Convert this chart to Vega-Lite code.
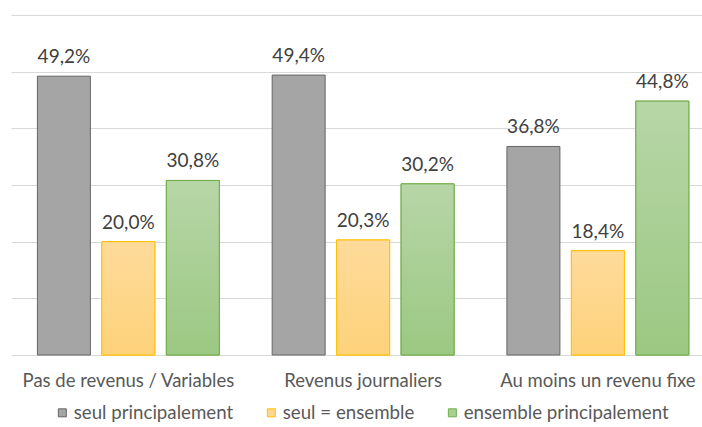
{
  "$schema": "https://vega.github.io/schema/vega-lite/v6.json",
  "width": 691,
  "height": 340,
  "autosize": {"type": "none"},
  "padding": {"left": 11, "top": 15, "right": 0, "bottom": 72},
  "data": {
    "values": [
      {"group": "Pas de revenus / Variables", "series": "seul principalement", "value": 0.492},
      {"group": "Pas de revenus / Variables", "series": "seul = ensemble", "value": 0.200},
      {"group": "Pas de revenus / Variables", "series": "ensemble principalement", "value": 0.308},
      {"group": "Revenus journaliers", "series": "seul principalement", "value": 0.494},
      {"group": "Revenus journaliers", "series": "seul = ensemble", "value": 0.203},
      {"group": "Revenus journaliers", "series": "ensemble principalement", "value": 0.302},
      {"group": "Au moins un revenu fixe", "series": "seul principalement", "value": 0.368},
      {"group": "Au moins un revenu fixe", "series": "seul = ensemble", "value": 0.184},
      {"group": "Au moins un revenu fixe", "series": "ensemble principalement", "value": 0.448}
    ]
  },
  "encoding": {
    "x": {
      "field": "group",
      "type": "nominal",
      "sort": ["Pas de revenus / Variables", "Revenus journaliers", "Au moins un revenu fixe"],
      "title": null,
      "scale": {"range": [0, 704.25], "paddingInner": 0.225, "paddingOuter": 0.1125},
      "axis": {"domain": false, "ticks": false, "labelAngle": 0, "labelFont": "Lato", "labelFontSize": 18.5, "labelColor": "#595959", "labelPadding": 16, "labelLimit": 0, "grid": false}
    },
    "xOffset": {
      "field": "series",
      "type": "nominal",
      "scale": {"domain": ["seul principalement", "seul = ensemble", "ensemble principalement"], "paddingInner": 0.178, "paddingOuter": 0}
    },
    "y": {
      "field": "value",
      "type": "quantitative",
      "title": null,
      "scale": {"domain": [0, 0.6], "nice": false},
      "axis": {"values": [0, 0.1, 0.2, 0.3, 0.4, 0.5, 0.6], "labels": false, "ticks": false, "domain": false, "grid": true, "gridColor": "#D9D9D9", "gridWidth": 1}
    }
  },
  "layer": [
    {
      "mark": {"type": "bar", "strokeWidth": 1},
      "encoding": {
        "fill": {
          "field": "series",
          "type": "nominal",
          "scale": {"domain": ["seul principalement", "seul = ensemble", "ensemble principalement"], "range": ["#A5A5A5", "#FED88E", "#A9CF94"]},
          "legend": {"orient": "none", "legendX": 42, "legendY": 388, "direction": "horizontal", "title": null, "symbolType": "square", "symbolSize": 64, "symbolStrokeWidth": 1, "labelFont": "Lato", "labelFontSize": 18.7, "labelColor": "#595959", "columnPadding": 28, "labelOffset": 2, "labelLimit": 0}
        },
        "stroke": {
          "field": "series",
          "type": "nominal",
          "scale": {"domain": ["seul principalement", "seul = ensemble", "ensemble principalement"], "range": ["#666666", "#FFC000", "#70AD47"]},
          "legend": {"orient": "none", "legendX": 42, "legendY": 388, "direction": "horizontal", "title": null, "symbolType": "square", "symbolSize": 64, "symbolStrokeWidth": 1, "labelFont": "Lato", "labelFontSize": 18.7, "labelColor": "#595959", "columnPadding": 28, "labelOffset": 2, "labelLimit": 0}
        }
      }
    },
    {
      "transform": [{"filter": "datum.series === 'seul = ensemble'"}],
      "mark": {
        "type": "bar",
        "strokeWidth": 1,
        "stroke": "#FFC000",
        "fill": {"gradient": "linear", "x1": 0, "y1": 0, "x2": 0, "y2": 1, "stops": [{"offset": 0, "color": "#FEDB9B"}, {"offset": 1, "color": "#FED27A"}]}
      }
    },
    {
      "transform": [{"filter": "datum.series === 'ensemble principalement'"}],
      "mark": {
        "type": "bar",
        "strokeWidth": 1,
        "stroke": "#70AD47",
        "fill": {"gradient": "linear", "x1": 0, "y1": 0, "x2": 0, "y2": 1, "stops": [{"offset": 0, "color": "#B7D6A7"}, {"offset": 1, "color": "#9BC882"}]}
      }
    },
    {
      "mark": {"type": "text", "baseline": "bottom", "dy": -9, "font": "Lato", "fontSize": 19, "color": "#404040"},
      "encoding": {"text": {"field": "value", "type": "quantitative", "format": ".1%"}}
    }
  ],
  "config": {
    "locale": {"number": {"decimal": ",", "thousands": " ", "grouping": [3], "currency": ["", " €"]}},
    "view": {"stroke": null},
    "background": "#FFFFFF"
  }
}
